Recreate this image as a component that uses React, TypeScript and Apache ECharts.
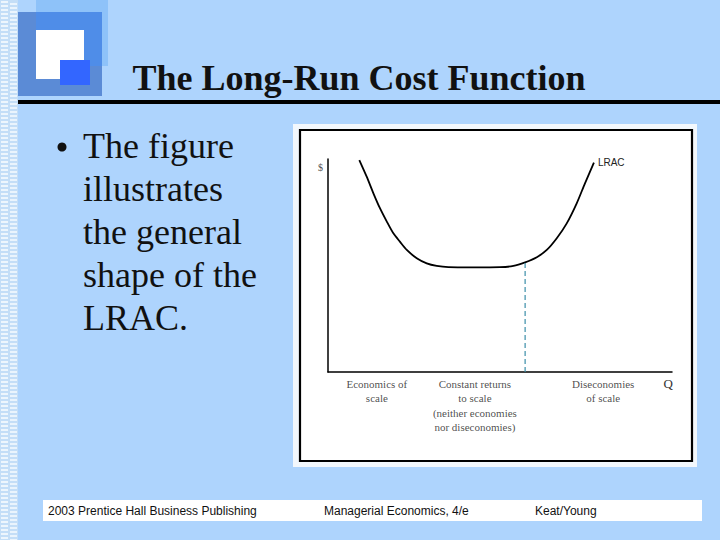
import React, { useEffect, useRef } from "react";
import * as echarts from "echarts";

// LRAC curve (quantity 0-100, cost 0-100)
const qValues = [9.1, 11.25, 13.2, 15.1, 17.1, 19.0, 20.9, 22.9, 25.8, 28.7, 31.6, 35.0, 42.2, 50.0, 53.9, 57.3, 60.7, 63.6, 66.5, 69.4, 72.3, 74.7, 77.3];
const costValues = [99.5, 91.7, 83.9, 76.9, 70.6, 65.1, 61.2, 57.3, 53.4, 51.0, 49.8, 49.2, 49.1, 49.2, 49.8, 51.5, 53.9, 57.3, 62.8, 69.8, 79.2, 88.6, 98.3];

// end of constant returns (dashed guide)
const boundaryQ = [57.3, 57.3];
const boundaryCost = [0, 51.5];

// region captions along the quantity axis
const regionQ = [14.2, 42.7, 80.0];
const regionLabels = [
  "Economics of\nscale",
  "Constant returns\nto scale\n(neither economies\nnor diseconomies)",
  "Diseconomies\nof scale",
];

const titleText = "The Long-Run Cost Function";
const bulletLines = ["The figure", "illustrates", "the general", "shape of the", "LRAC."];
const footerTexts = ["2003 Prentice Hall Business Publishing", "Managerial Economics, 4/e", "Keat/Young"];

function buildStrip() {
  const els: any[] = [
    { type: "rect", z: 0, shape: { x: 0, y: 0, width: 18, height: 540 }, style: { fill: "#c4def7" } },
  ];
  for (let y = 1; y < 540; y += 4) {
    els.push({ type: "rect", z: 0, shape: { x: 1, y, width: 7, height: 2 }, style: { fill: "#eef6fd" } });
    els.push({ type: "rect", z: 0, shape: { x: 10, y: y + 2, width: 7, height: 2 }, style: { fill: "#eaf4fd" } });
  }
  return els;
}

export default function App() {
  const ref = useRef<HTMLDivElement>(null);
  useEffect(() => {
    document.body.style.margin = "0";
    const chart = echarts.init(ref.current as HTMLDivElement, null, { renderer: "svg", width: 720, height: 540 });
    const serif = "'Liberation Serif', 'Times New Roman', serif";
    const sans = "'Liberation Sans', Arial, sans-serif";
    const option: any = {
      animation: false,
      backgroundColor: "#aed4fd",
      grid: { left: 328, right: 48, top: 159, bottom: 168 },
      xAxis: {
        type: "value",
        min: 0,
        max: 100,
        z: 5,
        name: "Q",
        nameLocation: "end",
        nameGap: 1,
        nameTextStyle: { fontFamily: serif, fontSize: 13, color: "#333", align: "right", verticalAlign: "top", padding: [5, 0, 0, 0] },
        axisLine: { show: true, onZero: false, lineStyle: { color: "#000", width: 1.5 } },
        axisTick: { show: false },
        axisLabel: { show: false },
        splitLine: { show: false },
      },
      yAxis: {
        type: "value",
        min: 0,
        max: 100,
        z: 5,
        name: "$",
        nameLocation: "end",
        nameGap: -3,
        nameTextStyle: { fontFamily: serif, fontSize: 10, color: "#555", align: "right", verticalAlign: "top", padding: [0, 5, 0, 0] },
        axisLine: { show: true, onZero: false, lineStyle: { color: "#000", width: 1.5 } },
        axisTick: { show: false },
        axisLabel: { show: false },
        splitLine: { show: false },
      },
      graphic: [
        ...buildStrip(),
        // logo
        { type: "rect", z: 0, shape: { x: 36, y: 0, width: 72, height: 66 }, style: { fill: "#8ec2f9" } },
        { type: "rect", z: 0, shape: { x: 18, y: 12, width: 84, height: 84 }, style: { fill: "#5b8bd6" } },
        { type: "rect", z: 0, shape: { x: 36, y: 12, width: 66, height: 54 }, style: { fill: "#4f8de8" } },
        { type: "rect", z: 0, shape: { x: 36, y: 30, width: 48, height: 49 }, style: { fill: "#ffffff" } },
        { type: "rect", z: 0, shape: { x: 60, y: 60, width: 30, height: 25 }, style: { fill: "#3366ff" } },
        // title rule
        { type: "rect", z: 0, shape: { x: 18, y: 100, width: 702, height: 4 }, style: { fill: "#000" } },
        {
          type: "text",
          z: 1,
          style: { text: titleText, x: 359, y: 78, font: `bold 36px ${serif}`, fill: "#111", align: "center", verticalAlign: "middle" },
        },
        // bullet
        { type: "circle", z: 1, shape: { cx: 62, cy: 147, r: 4.5 }, style: { fill: "#111" } },
        {
          type: "text",
          z: 1,
          style: { text: bulletLines.join("\n"), x: 83, y: 124, font: `36px ${serif}`, lineHeight: 43, fill: "#111", align: "left", verticalAlign: "top" },
        },
        // figure frame
        { type: "rect", z: 0, shape: { x: 293, y: 124, width: 404, height: 343 }, style: { fill: "#f2f7fc" } },
        { type: "rect", z: 0, shape: { x: 300, y: 130, width: 392, height: 331 }, style: { fill: "#ffffff", stroke: "#000", lineWidth: 2.2 } },
        // footer
        { type: "rect", z: 0, shape: { x: 43, y: 500, width: 659, height: 21 }, style: { fill: "#ffffff" } },
        { type: "text", z: 1, style: { text: footerTexts[0], x: 48, y: 511, font: `12px ${sans}`, fill: "#111", verticalAlign: "middle" } },
        { type: "text", z: 1, style: { text: footerTexts[1], x: 324, y: 511, font: `12px ${sans}`, fill: "#111", verticalAlign: "middle" } },
        { type: "text", z: 1, style: { text: footerTexts[2], x: 535, y: 511, font: `12px ${sans}`, fill: "#111", verticalAlign: "middle" } },
      ],
      series: [
        {
          type: "line",
          name: "LRAC",
          z: 6,
          data: qValues.map((q, i) => [q, costValues[i]]),
          smooth: 0.25,
          symbol: "none",
          lineStyle: { color: "#000", width: 1.8 },
          endLabel: { show: true, formatter: "LRAC", fontFamily: sans, fontSize: 10, color: "#222", distance: 4 },
        },
        {
          type: "line",
          name: "boundary",
          z: 6,
          data: boundaryQ.map((q, i) => [q, boundaryCost[i]]),
          symbol: "none",
          lineStyle: { color: "#3a8ea8", width: 1.2, type: [5, 3] },
        },
        {
          type: "scatter",
          name: "regions",
          z: 6,
          data: regionQ.map((q, i) => ({ value: [q, 0], name: regionLabels[i] })),
          symbolSize: 1,
          itemStyle: { color: "rgba(0,0,0,0)" },
          label: {
            show: true,
            position: "bottom",
            distance: 4,
            formatter: (p: any) => p.name,
            fontFamily: serif,
            fontSize: 11,
            lineHeight: 14.5,
            color: "#222",
            align: "center",
          },
        },
      ],
    };
    chart.setOption(option);
    return () => chart.dispose();
  }, []);
  return <div ref={ref} style={{ width: 720, height: 540, position: "absolute", left: 0, top: 0 }} />;
}
